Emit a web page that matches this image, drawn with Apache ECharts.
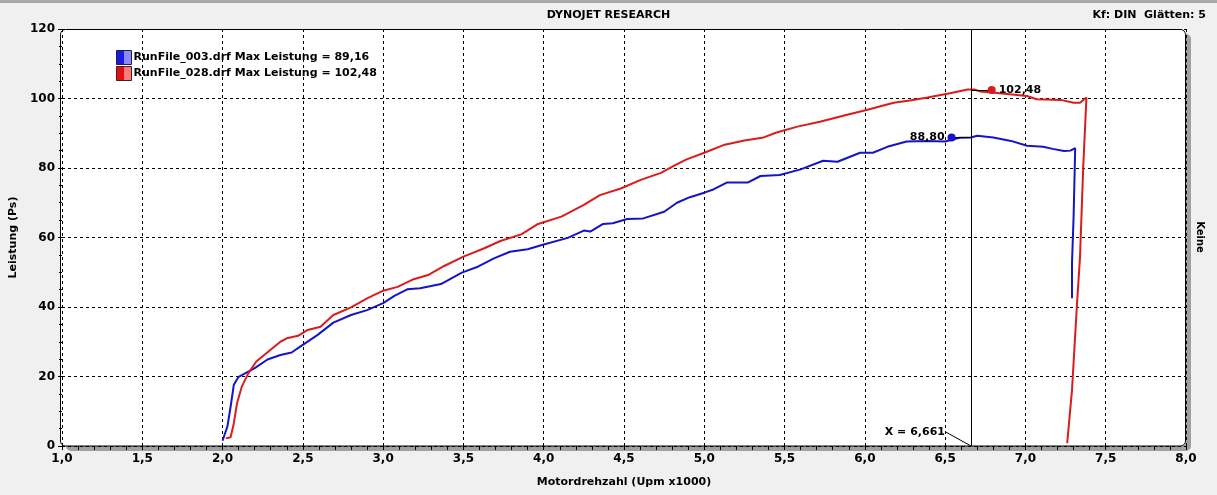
<!DOCTYPE html>
<html><head><meta charset="utf-8">
<script src="https://cdn.jsdelivr.net/npm/echarts@6/dist/echarts.min.js"></script>
<style>html,body{margin:0;padding:0;background:#f0f0f0}#c{width:1217px;height:495px}</style>
</head><body><div id="c"></div>
<script>
const rpmBlue = [2.00, 2.01, 2.03, 2.05, 2.07, 2.10, 2.14, 2.20, 2.28, 2.36, 2.43, 2.49, 2.59, 2.69, 2.80, 2.90, 3.00, 3.07, 3.15, 3.23, 3.36, 3.49, 3.59, 3.69, 3.79, 3.90, 4.00, 4.15, 4.25, 4.29, 4.37, 4.43, 4.52, 4.62, 4.75, 4.83, 4.91, 5.00, 5.06, 5.14, 5.27, 5.35, 5.47, 5.60, 5.74, 5.83, 5.97, 6.05, 6.14, 6.26, 6.39, 6.50, 6.59, 6.66, 6.70, 6.80, 6.91, 7.01, 7.11, 7.17, 7.24, 7.28, 7.31, 7.30, 7.29, 7.29];
const powerBlue = [1.5, 1.9, 5.6, 11.3, 17.6, 19.9, 20.9, 22.4, 24.9, 26.2, 26.9, 28.8, 31.9, 35.5, 37.7, 39.1, 41.1, 43.2, 45.1, 45.4, 46.6, 49.9, 51.6, 54.0, 55.9, 56.6, 58.0, 59.9, 62.0, 61.7, 63.9, 64.1, 65.3, 65.5, 67.4, 70.0, 71.6, 72.9, 73.9, 75.8, 75.8, 77.7, 78.0, 79.6, 82.1, 81.8, 84.4, 84.4, 86.1, 87.6, 87.8, 87.6, 88.7, 88.8, 89.3, 88.8, 87.8, 86.4, 86.1, 85.5, 84.9, 85.0, 85.7, 66.0, 52.6, 42.5];
const rpmRed = [2.02, 2.05, 2.07, 2.09, 2.12, 2.16, 2.21, 2.28, 2.36, 2.40, 2.47, 2.53, 2.61, 2.69, 2.80, 2.90, 3.00, 3.09, 3.19, 3.28, 3.38, 3.50, 3.63, 3.73, 3.86, 3.96, 4.11, 4.25, 4.35, 4.48, 4.60, 4.73, 4.81, 4.89, 5.00, 5.12, 5.25, 5.37, 5.45, 5.58, 5.72, 5.89, 6.01, 6.18, 6.28, 6.39, 6.53, 6.64, 6.68, 6.72, 6.84, 7.01, 7.07, 7.22, 7.30, 7.34, 7.38, 7.36, 7.34, 7.32, 7.29, 7.26];
const powerRed = [2.2, 2.5, 6.5, 12.3, 17.1, 20.9, 24.3, 27.0, 30.0, 31.0, 31.7, 33.4, 34.3, 37.7, 39.9, 42.5, 44.7, 45.8, 48.0, 49.2, 51.8, 54.5, 56.9, 59.0, 60.9, 63.8, 66.0, 69.4, 72.2, 74.1, 76.5, 78.6, 80.6, 82.5, 84.4, 86.6, 87.9, 88.8, 90.2, 91.9, 93.3, 95.3, 96.7, 98.8, 99.4, 100.3, 101.5, 102.6, 102.6, 102.0, 101.5, 100.7, 99.8, 99.6, 98.8, 98.8, 100.3, 80.4, 54.5, 40.0, 16.0, 0.8];
const seriesNames = ['RunFile_003.drf Max Leistung = 89,16', 'RunFile_028.drf Max Leistung = 102,48'];
const cursorX = 6.661;
const cursorLabel = 'X = 6,661';
const markerBlue = [6.54, 88.8];
const markerBlueLabel = '88,80';
const markerRed = [6.79, 102.48];
const markerRedLabel = '102,48';
const cursorLabelAnchor = [6.505, 4.0];
const titleText = 'DYNOJET RESEARCH';
const infoText = 'Kf: DIN  Glätten: 5';
const sideText = 'Keine';
const xName = 'Motordrehzahl (Upm x1000)';
const yName = 'Leistung (Ps)';

const BLUE = '#1414c8', RED = '#dc1c1c';
const FONT = 'DejaVu Sans';
const zip = (a, b) => a.map((v, i) => [v, b[i]]);
const fmt = v => v.toFixed(1).replace('.', ',');
const G = {left: 61, top: 29, width: 1125, height: 417};
const LBL = {fontFamily: FONT, fontSize: 11, fontWeight: 'bold', color: '#000'};

const chart = echarts.init(document.getElementById('c'), null, {renderer: 'canvas'});
chart.setOption({
  animation: false,
  backgroundColor: '#f0f0f0',
  title: [
    {text: titleText, left: 'center', top: 5, textStyle: {fontFamily: FONT, fontSize: 11, fontWeight: 'bold', color: '#000'}},
    {text: infoText, right: 6, top: 5, textStyle: {fontFamily: FONT, fontSize: 11, fontWeight: 'bold', color: '#000'}}
  ],
  legend: {
    orient: 'vertical', left: 116, top: 50, itemWidth: 15, itemHeight: 14, itemGap: 1, padding: 0,
    textStyle: {fontFamily: FONT, fontSize: 11, fontWeight: 'bold', color: '#000', padding: [0, 0, 0, -3]},
    data: [
      {name: seriesNames[0], icon: 'rect', itemStyle: {borderColor: '#202040', borderWidth: 1, color: new echarts.graphic.LinearGradient(0, 0, 1, 0, [{offset: 0, color: '#1a1ae0'}, {offset: 0.5, color: '#1a1ae0'}, {offset: 0.5, color: '#8a8aff'}, {offset: 1, color: '#8a8aff'}])}},
      {name: seriesNames[1], icon: 'rect', itemStyle: {borderColor: '#402020', borderWidth: 1, color: new echarts.graphic.LinearGradient(0, 0, 1, 0, [{offset: 0, color: '#e01010'}, {offset: 0.5, color: '#e01010'}, {offset: 0.5, color: '#ff7a7a'}, {offset: 1, color: '#ff7a7a'}])}}
    ]
  },
  grid: {left: G.left, top: G.top, width: G.width, height: G.height, show: false},
  xAxis: {
    type: 'value', min: 1, max: 8, interval: 0.5,
    name: xName, nameLocation: 'middle', nameGap: 31,
    nameTextStyle: {fontFamily: FONT, fontSize: 11, fontWeight: 'bold', color: '#000'},
    axisLine: {show: false},
    axisTick: {show: true, length: 4, lineStyle: {color: '#000'}},
    minorTick: {show: true, splitNumber: 5, length: 4, lineStyle: {color: '#000'}},
    axisLabel: {formatter: fmt, fontFamily: FONT, fontSize: 12, fontWeight: 'bold', color: '#000', margin: 7},
    splitLine: {show: true, lineStyle: {color: '#000', type: [3, 3], width: 1}}
  },
  yAxis: {
    type: 'value', min: 0, max: 120, interval: 20,
    name: yName, nameLocation: 'middle', nameGap: 43, nameRotate: 90,
    nameTextStyle: {fontFamily: FONT, fontSize: 11, fontWeight: 'bold', color: '#000'},
    axisLine: {show: false},
    axisTick: {show: true, length: 4, lineStyle: {color: '#000'}},
    minorTick: {show: true, splitNumber: 4, length: 3, lineStyle: {color: '#000'}},
    axisLabel: {fontFamily: FONT, fontSize: 12, fontWeight: 'bold', color: '#000', margin: 7},
    splitLine: {show: true, lineStyle: {color: '#000', type: [3, 3], width: 1}}
  },
  graphic: [
    {type: 'rect', z: -30, shape: {x: 0, y: 0, width: 1217, height: 3}, style: {fill: '#a8a8a8'}},
    {type: 'rect', z: -25, shape: {x: G.left + 5, y: G.top + 5, width: G.width, height: G.height, r: 5}, style: {fill: '#a0a0a0'}},
    {type: 'rect', z: -20, shape: {x: G.left, y: G.top, width: G.width, height: G.height, r: 5}, style: {fill: '#ffffff'}},
    {type: 'rect', z: 100, shape: {x: G.left - 0.5, y: G.top + 0.5, width: G.width, height: G.height - 0.5, r: 5}, style: {fill: null, stroke: '#000', lineWidth: 1}},
    {type: 'text', z: 100, x: 1200, y: 237, rotation: -Math.PI / 2, style: {text: sideText, fontFamily: FONT, fontSize: 10, fontWeight: 'bold', fill: '#000', align: 'center', verticalAlign: 'middle'}}
  ],
  series: [
    {
      name: seriesNames[0], type: 'line', data: zip(rpmBlue, powerBlue), showSymbol: false, symbol: 'none',
      lineStyle: {color: BLUE, width: 2}, itemStyle: {color: BLUE}, z: 3
    },
    {
      name: seriesNames[1], type: 'line', data: zip(rpmRed, powerRed), showSymbol: false, symbol: 'none',
      lineStyle: {color: RED, width: 2}, itemStyle: {color: RED}, z: 3,
      markLine: {
        silent: true, symbol: 'none', animation: false,
        lineStyle: {color: '#000', width: 1, type: 'solid'},
        label: {show: false},
        data: [
          {xAxis: cursorX},
          [{coord: markerBlue}, {coord: [cursorX, markerBlue[1]]}],
          [{coord: [cursorX, markerRed[1]]}, {coord: markerRed}],
          [{coord: cursorLabelAnchor}, {coord: [cursorX, 0]}]
        ]
      }
    },
    {
      name: 'markers', type: 'scatter', z: 5, symbolSize: 8,
      itemStyle: {opacity: 1},
      data: [
        {value: markerBlue, itemStyle: {color: BLUE, opacity: 1}, label: Object.assign({show: true, position: 'left', distance: 3, formatter: markerBlueLabel}, LBL)},
        {value: markerRed, itemStyle: {color: RED, opacity: 1}, label: Object.assign({show: true, position: 'right', distance: 3, formatter: markerRedLabel}, LBL)},
        {value: cursorLabelAnchor, symbolSize: 0, itemStyle: {opacity: 1}, label: Object.assign({show: true, position: 'left', distance: 1, formatter: cursorLabel}, LBL)}
      ],
      label: LBL
    }
  ]
});
</script></body></html>
